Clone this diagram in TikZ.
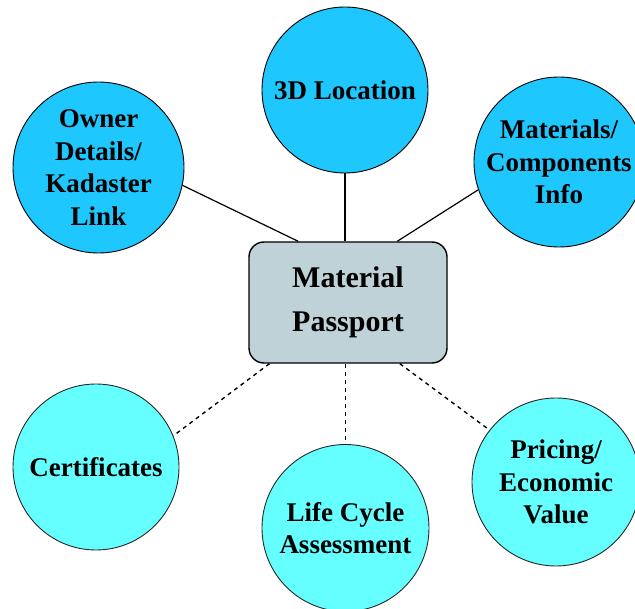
\documentclass[tikz,border=0pt]{standalone}
\usepackage{fontspec}
\setmainfont{Liberation Serif}
\usetikzlibrary{calc}
\definecolor{darkcyan}{RGB}{30,200,255}
\definecolor{lightcyan}{RGB}{102,255,255}
\definecolor{boxfill}{RGB}{190,210,216}
\definecolor{edge}{RGB}{40,40,40}
\begin{document}
\begin{tikzpicture}[x=1pt,y=-1pt,
  bubble/.style={circle,draw=black,line width=0.9pt,inner sep=0pt,align=center,
    font=\fontsize{27}{32.5}\selectfont\bfseries},
  topbubble/.style={bubble,fill=darkcyan},
  lowbubble/.style={bubble,fill=lightcyan,draw=edge},
  passport/.style={draw=black,line width=1.4pt,fill=boxfill,rounded corners=15pt,
    minimum width=198pt,minimum height=121pt,inner sep=0pt,align=center,
    font=\fontsize{30}{44}\selectfont\bfseries},
  solidlink/.style={draw=black,line width=1.2pt},
  dashlink/.style={draw=black,line width=1.4pt,dash pattern=on 4pt off 4pt}]
\useasboundingbox (0,0) rectangle (635,609);
\clip (0,0) rectangle (635,609);
\node[passport] (box) at (348,302.5) {Material\\Passport};
\node[topbubble,minimum size=166pt] (loc) at (345,90) {3D Location};
\node[topbubble,minimum size=171pt] (owner) at (98.5,167.5) {Owner\\Details/\\Kadaster\\Link};
\node[topbubble,minimum size=170pt] (mat) at (559,162) {Materials/\\Components\\Info};
\node[lowbubble,minimum size=166pt] (cert) at (96,467) {Certificates};
\node[lowbubble,minimum size=167pt] (lca) at (345.5,528) {Life Cycle\\Assessment};
\node[lowbubble,minimum size=168pt] (price) at (556,482) {Pricing/\\Economic\\Value};
\coordinate (tA) at ($(box.north west)!0.25!(box.north east)$);
\coordinate (tC) at ($(box.north west)!0.747!(box.north east)$);
\coordinate (bA) at ($(box.south west)!0.106!(box.south east)$);
\coordinate (bC) at ($(box.south west)!0.76!(box.south east)$);
\draw[solidlink] (owner.-12) -- (tA);
\draw[solidlink] (loc.south) -- (loc.south |- box.north);
\draw[solidlink] (mat.199) -- (tC);
\draw[dashlink] (bA) -- (cert.22);
\draw[dashlink] (lca.north |- box.south) -- (lca.north);
\draw[dashlink] (bC) -- (price.142);
\end{tikzpicture}
\end{document}
